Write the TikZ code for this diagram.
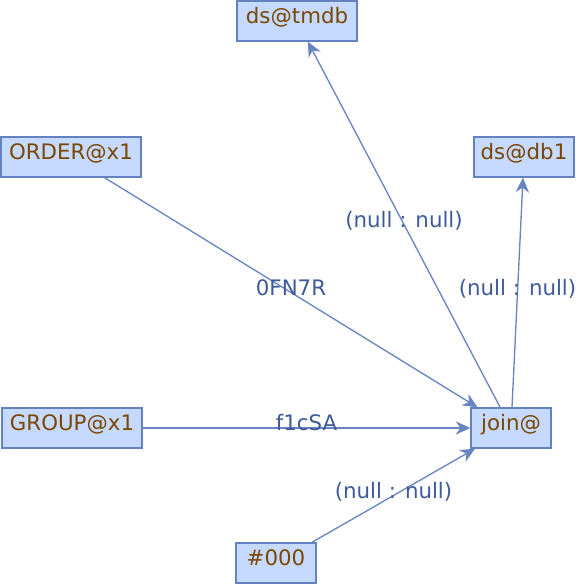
\documentclass[tikz,border=0pt]{standalone}
\usepackage{fontspec}
\setmainfont{DejaVu Sans}
\usetikzlibrary{arrows.meta}
\definecolor{boxfill}{HTML}{C6DAFF}
\definecolor{boxdraw}{HTML}{6482C0}
\definecolor{boxtext}{HTML}{7A4600}
\definecolor{edgecol}{HTML}{6885C2}
\definecolor{labcol}{HTML}{3E5A98}
\tikzset{
  box/.style={draw=boxdraw, fill=boxfill, line width=1pt, inner sep=0pt,
    minimum height=30pt, text=boxtext, font=\fontsize{16pt}{18pt}\selectfont,
    text height=12pt, text depth=8pt},
  conn/.style={draw=edgecol, line width=1pt, -{Stealth[length=11pt,width=10pt,inset=3.5pt]}},
  lab/.style={midway, text=labcol, font=\fontsize{16pt}{18pt}\selectfont,
    inner sep=0pt, text height=12pt, text depth=8pt}
}
\begin{document}
\begin{tikzpicture}[x=0.75pt,y=-0.75pt]
\useasboundingbox (0,0) rectangle (584,585);
\node[box, minimum width=90pt] (tmdb) at (297,21) {ds@tmdb};
\node[box, minimum width=105pt] (order) at (71,157) {ORDER@x1};
\node[box, minimum width=75pt] (db1) at (524,157) {ds@db1};
\node[box, minimum width=105pt] (group) at (72,428) {GROUP@x1};
\node[box, minimum width=60pt] (join) at (511,428) {join@};
\node[box, minimum width=60pt] (n000) at (276,563) {\#000};
\draw[conn] (join) -- (tmdb) node[lab] {(null : null)};
\draw[conn] (join) -- (db1) node[lab] {(null : null)};
\draw[conn] (order) -- (join) node[lab] {0FN7R};
\draw[conn] (group) -- (join) node[lab] {f1cSA};
\draw[conn] (n000) -- (join) node[lab] {(null : null)};
\end{tikzpicture}
\end{document}
